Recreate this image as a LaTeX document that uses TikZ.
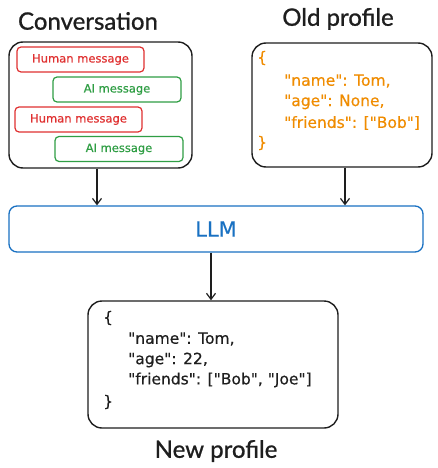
\documentclass[tikz,border=0pt]{standalone}
\usepackage{fontspec}
\setmainfont{Lato}
\newfontfamily\titlefont{Lato}[FakeBold=0.9]
\newfontfamily\handfont{DejaVu Sans}[FakeBold=0.4]
\usetikzlibrary{arrows.meta}
\definecolor{exred}{HTML}{E03131}
\definecolor{exgreen}{HTML}{2F9E44}
\definecolor{exblue}{HTML}{1971C2}
\definecolor{exorange}{HTML}{F08C00}
\definecolor{exblack}{HTML}{1E1E1E}
\tikzset{
  bigbox/.style={draw=exblack, line width=1.4pt, rounded corners=14pt},
  msgbox/.style={line width=1.2pt, rounded corners=4pt, minimum height=25pt, inner sep=0pt, font=\handfont\fontsize{11.5}{12}\selectfont},
  human/.style={msgbox, draw=exred, text=exred, minimum width=127pt},
  aimsg/.style={msgbox, draw=exgreen, text=exgreen, minimum width=128pt},
  title/.style={font=\titlefont\fontsize{24}{28}\selectfont, text=exblack},
  code/.style={anchor=west, inner sep=0pt, font=\handfont\fontsize{15.5}{17}\selectfont},
  arr/.style={draw=exblack, line width=1.2pt, -{Straight Barb[length=6pt,width=9pt]}}
}
\begin{document}
\begin{tikzpicture}[x=1pt,y=-1pt]
\useasboundingbox[fill=white] (0,0) rectangle (438,468);
% titles
\node[title] (tconv) at (88,21) {Conversation};
\node[title] (told) at (338,19) {Old profile};
\node[title] (tnew) at (216,451) {New profile};
% conversation
\node[bigbox, minimum width=183pt, minimum height=126pt, inner sep=0pt] (conv) at (100.5,105) {};
\node[human] (h1) at (80.5,59.5) {Human message};
\node[aimsg] (a1) at (117,89.5) {AI message};
\node[human] (h2) at (78.5,119.5) {Human message};
\node[aimsg] (a2) at (119,149) {AI message};
% old profile
\node[bigbox, minimum width=180pt, minimum height=124pt, inner sep=0pt] (old) at (342,105) {};
\begin{scope}[every node/.style={code, text=exorange}]
\node (o0) at (257,58) {\{};
\node (o1) at (284,81) {"name": Tom,};
\node (o2) at (284,102) {"age": None,};
\node (o3) at (284,123) {"friends": ["Bob"]};
\node (o4) at (257,143) {\}};
\end{scope}
% LLM
\node[draw=exblue, line width=1.3pt, rounded corners=8pt, minimum width=414pt, minimum height=46pt, inner sep=0pt, text=exblue, font=\handfont\fontsize{21}{23}\selectfont] (llm) at (216,229) {LLM};
% new profile
\node[bigbox, minimum width=250pt, minimum height=127pt, inner sep=0pt] (new) at (213,364.5) {};
\begin{scope}[every node/.style={code, text=exblack}]
\node (n0) at (103,318) {\{};
\node (n1) at (128,339) {"name": Tom,};
\node (n2) at (128,360) {"age": 22,};
\node (n3) at (128,380) {"friends": ["Bob", "Joe"]};
\node (n4) at (103,402) {\}};
\end{scope}
% arrows
\draw[arr] (conv.south -| 97,0) -- (llm.north -| 97,0);
\draw[arr] (old.south -| 345,0) -- (llm.north -| 345,0);
\draw[arr] (llm.south -| 211,0) -- (new.north -| 211,0);
\end{tikzpicture}
\end{document}
